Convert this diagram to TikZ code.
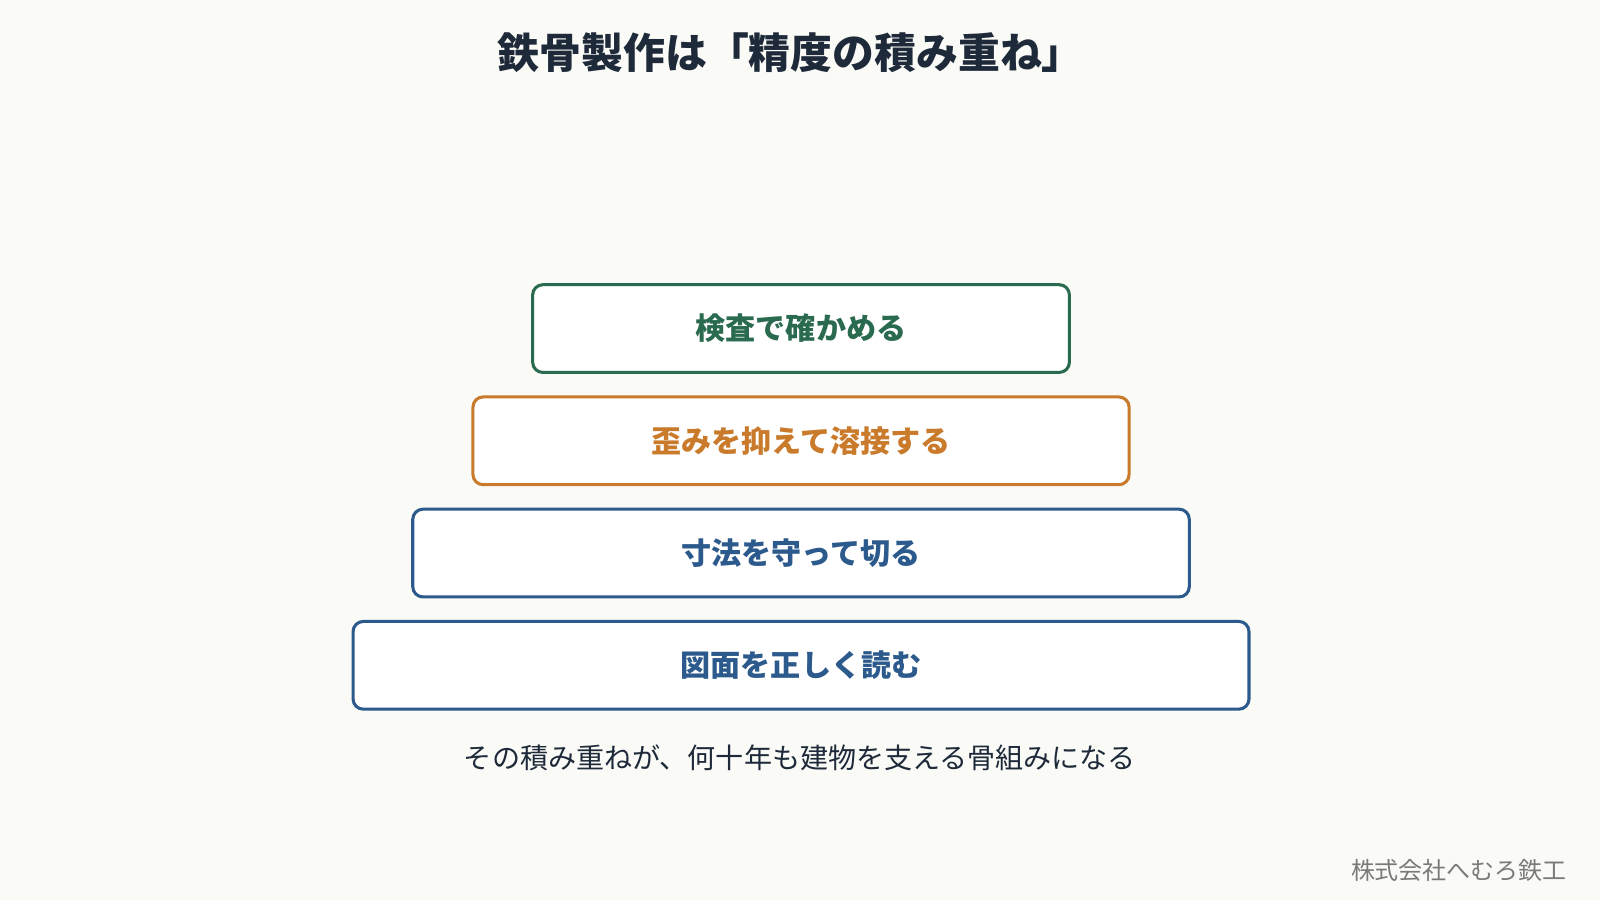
\documentclass[tikz,border=0pt]{standalone}
\usepackage{fontspec}
\setmainfont{Noto Sans CJK JP}
\usetikzlibrary{positioning}
\definecolor{bgcol}{HTML}{FAFAF6}
\definecolor{titlecol}{HTML}{1E2A3A}
\definecolor{greencol}{HTML}{2A6B4F}
\definecolor{orangecol}{HTML}{C97A2A}
\definecolor{bluecol}{HTML}{2C5A8C}
\definecolor{footcol}{HTML}{7A7A7A}
\begin{document}
\begin{tikzpicture}[x=1pt, y=-1pt,
    stepbox/.style = {shape=rectangle, rounded corners=10pt, draw, line width=3pt,
      fill=white, minimum height=86pt, inner sep=0pt,
      font=\fontsize{29.5}{34}\selectfont\bfseries}]
  \fill[bgcol] (0,0) rectangle (1568,882);
  \useasboundingbox (0,0) rectangle (1568,882);
  \node[text=titlecol, font=\fontsize{41}{46}\selectfont\bfseries] (title) at (775,52) {鉄骨製作は「精度の積み重ね」};
  \node[stepbox, draw=bluecol, text=bluecol, minimum width=878pt] (read) at (785,652) {図面を正しく読む};
  \node[stepbox, draw=bluecol, text=bluecol, minimum width=761pt, above=21pt of read] (cut) {寸法を守って切る};
  \node[stepbox, draw=orangecol, text=orangecol, minimum width=643pt, above=21pt of cut] (weld) {歪みを抑えて溶接する};
  \node[stepbox, draw=greencol, text=greencol, minimum width=526pt, above=21pt of weld] (check) {検査で確かめる};
  \node[text=titlecol, font=\fontsize{27.5}{32}\selectfont] (note) at (784,743) {その積み重ねが、何十年も建物を支える骨組みになる};
  \node[text=footcol, font=\fontsize{23.5}{28}\selectfont, anchor=east] (firm) at (1539,853) {株式会社へむろ鉄工};
\end{tikzpicture}
\end{document}
